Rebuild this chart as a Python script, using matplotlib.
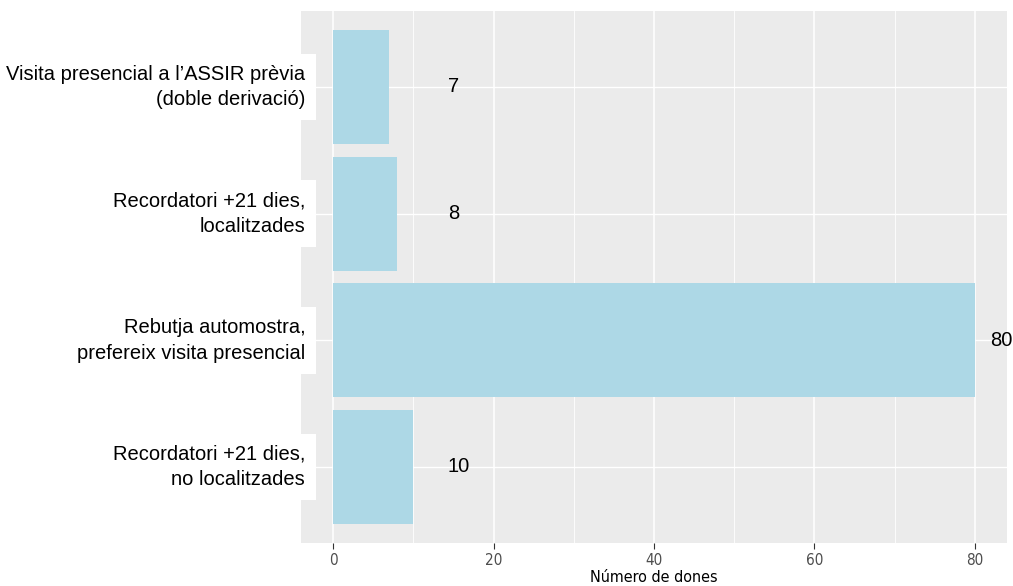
import matplotlib.pyplot as plt
import numpy as np

# categories top to bottom, and counts
categories = ['Visita presencial a l\u2019ASSIR prèvia\n(doble derivació)',
              'Recordatori +21 dies,\nlocalitzades',
              'Rebutja automostra,\nprefereix visita presencial',
              'Recordatori +21 dies,\nno localitzades']
counts = [7, 8, 80, 10]
xticks = [0, 20, 40, 60, 80]

fig = plt.figure(figsize=(10.13, 5.86), dpi=100)
ax = fig.add_axes([301/1013, (586-543)/586, 706/1013, 532/586])
ax.set_facecolor('#EBEBEB')

ypos = np.arange(len(categories))[::-1]
ax.barh(ypos, counts, height=0.9, color='#ADD8E6', zorder=3)

ax.set_xlim(-4, 84)
ax.set_ylim(-0.6, len(categories) - 0.4)

# grid like ggplot
ax.set_xticks(xticks)
ax.set_xticks([10, 30, 50, 70], minor=True)
ax.grid(axis='x', which='major', color='white', linewidth=1.1, zorder=1)
ax.grid(axis='x', which='minor', color='white', linewidth=0.6, zorder=1)
for y in ypos:
    ax.axhline(y, color='white', linewidth=1.0, zorder=1)

ax.set_yticks([])
for s in ax.spines.values():
    s.set_visible(False)
ax.tick_params(axis='x', which='major', length=4, color='#333333', colors='#4D4D4D',
               labelsize=11, pad=3)
ax.tick_params(axis='x', which='minor', length=0)
for lab in ax.get_xticklabels():
    lab.set_fontstretch('condensed')
ax.set_xlabel('Número de dones', fontsize=11.5, fontstretch='condensed', labelpad=2)

# category labels in white boxes
for y, c in zip(ypos, categories):
    ax.text(0.006, y, c, transform=ax.get_yaxis_transform(), ha='right', va='center',
            fontsize=14.5, family='Liberation Sans', linespacing=1.45,
            bbox=dict(facecolor='white', edgecolor='none', pad=8), zorder=5)

# value labels
for y, v in zip(ypos, counts):
    xl = 14.3 if v < 14 else v + 1.9
    ax.text(xl, y, str(v), ha='left', va='center', fontsize=14.5,
            family='Liberation Sans', zorder=5, clip_on=False)

fig.savefig('out.png', dpi=100)
